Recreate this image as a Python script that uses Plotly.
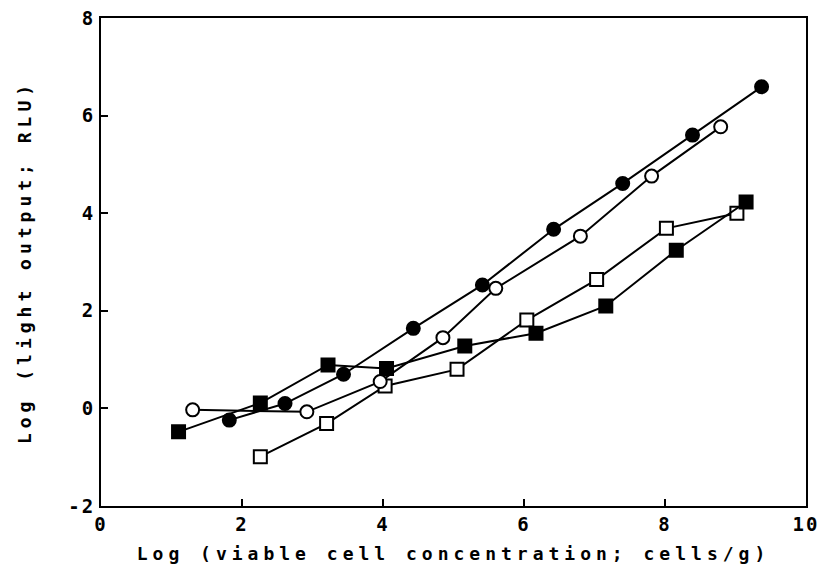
import plotly.graph_objects as go

# Data
x_filled_circle = [1.82, 2.61, 3.44, 4.43, 5.41, 6.42, 7.40, 8.39, 9.37]
y_filled_circle = [-0.24, 0.10, 0.70, 1.64, 2.53, 3.67, 4.61, 5.60, 6.59]

x_open_circle = [1.30, 2.92, 3.96, 4.85, 5.60, 6.80, 7.81, 8.79]
y_open_circle = [-0.03, -0.07, 0.55, 1.45, 2.46, 3.53, 4.76, 5.77]

x_filled_square = [1.10, 2.26, 3.22, 4.05, 5.16, 6.17, 7.16, 8.16, 9.15]
y_filled_square = [-0.48, 0.11, 0.89, 0.82, 1.28, 1.54, 2.10, 3.24, 4.23]

x_open_square = [2.26, 3.20, 4.03, 5.05, 6.04, 7.03, 8.02, 9.02]
y_open_square = [-0.99, -0.31, 0.46, 0.80, 1.81, 2.64, 3.69, 4.00]

x_ticks = [0, 2, 4, 6, 8, 10]
y_ticks = [-2, 0, 2, 4, 6, 8]

x_title = "Log (viable cell concentration; cells/g)"
y_title = "Log (light output; RLU)"

FONT = "DejaVu Sans Mono"

fig = go.Figure()

def add(xs, ys, symbol, fill):
    fig.add_trace(go.Scatter(
        x=xs, y=ys, mode="lines+markers",
        line=dict(color="black", width=2),
        marker=dict(symbol=symbol, size=13, color=fill,
                    line=dict(color="black", width=2)),
        showlegend=False, cliponaxis=False,
    ))

add(x_open_square, y_open_square, "square", "white")
add(x_filled_square, y_filled_square, "square", "black")
add(x_open_circle, y_open_circle, "circle", "white")
add(x_filled_circle, y_filled_circle, "circle", "black")

axis_common = dict(
    showgrid=False, zeroline=False, showline=True, linecolor="black",
    linewidth=2, mirror=True, ticks="inside", ticklen=7, tickwidth=2,
    tickcolor="black", automargin=False,
    tickfont=dict(family=FONT, size=19, color="black", weight="bold"),
)

fig.update_layout(
    width=822, height=569,
    margin=dict(l=101, r=16, t=18, b=63),
    paper_bgcolor="white", plot_bgcolor="white",
    xaxis=dict(range=[0, 10], tickvals=x_ticks,
               ticktext=[str(v) for v in x_ticks],
               title=dict(text=x_title, standoff=14,
                          font=dict(family=FONT, size=18, color="black",
                                    weight="bold")),
               **axis_common),
    yaxis=dict(range=[-2, 8], tickvals=y_ticks,
               ticktext=[str(v) for v in y_ticks],
               title=dict(text=y_title, standoff=36,
                          font=dict(family=FONT, size=18, color="black",
                                    weight="bold")),
               **axis_common),
)

post = """
var gd = document.getElementById('{plot_id}');
function sp(){
  gd.querySelectorAll('.xtitle, .ytitle').forEach(function(t){ t.style.letterSpacing = '5px'; });
  gd.querySelectorAll('.xtick text, .ytick text').forEach(function(t){ t.style.letterSpacing = '2px'; });
}
sp();
if (gd.on) { gd.on('plotly_afterplot', sp); }
"""

fig.write_html("out.html", post_script=post)
